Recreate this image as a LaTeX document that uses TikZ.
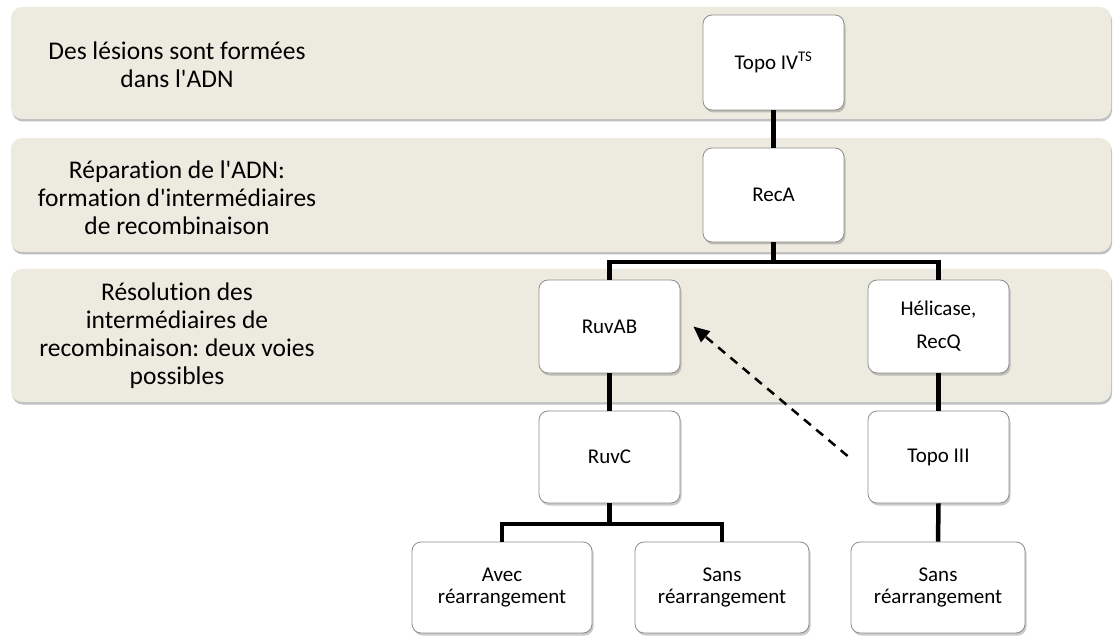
\documentclass[tikz,border=0pt]{standalone}
\usepackage{fontspec}
\setmainfont{Carlito}[Ligatures={TeXOff,NoCommon}]
\usetikzlibrary{shadows,arrows.meta,calc}
\frenchspacing
\definecolor{bandfill}{RGB}{237,235,224}
\definecolor{boxedge}{RGB}{140,140,140}
\tikzset{
  band/.style={rounded corners=11pt, fill=bandfill, draw=none, minimum width=1100pt, inner sep=0pt,
    drop shadow={shadow xshift=1pt, shadow yshift=-2.5pt, opacity=0.45, fill=black!55}},
  bandtext/.style={align=center, font=\fontsize{25.5}{28}\selectfont, inner sep=0pt},
  stepbox/.style={rounded corners=9pt, fill=white, draw=boxedge, line width=0.8pt, minimum width=141pt,
    minimum height=94pt, inner sep=0pt, align=center, font=\fontsize{21}{22}\selectfont,
    drop shadow={shadow xshift=1.5pt, shadow yshift=-2.5pt, opacity=0.35, fill=black!60}},
  conn/.style={line width=4.5pt, draw=black},
  hint/.style={line width=2.5pt, dash pattern=on 9pt off 7pt, -{Triangle[length=16pt,width=14pt]}}
}
\begin{document}
\begin{tikzpicture}[x=1pt,y=-1pt]
\useasboundingbox (0,0) rectangle (1113,636);
% bands
\node[band, minimum height=112pt] (b1) at (561,63) {};
\node[band, minimum height=114pt] (b2) at (561,195) {};
\node[band, minimum height=133pt] (b3) at (561,335.5) {};
% band texts
\node[bandtext] (t1) at (177,65) {Des lésions sont formées\\dans l'ADN};
\node[bandtext] (t2) at (177,198) {Réparation de l'ADN:\\formation d'intermédiaires\\de recombinaison};
\node[bandtext] (t3) at (177,336) {Résolution des\\intermédiaires de\\recombinaison: deux voies\\possibles};
% boxes
\node[stepbox, minimum height=95pt] (topo4) at (773.5,62.5) {Topo IV\textsuperscript{TS}};
\node[stepbox] (reca) at (773.5,195) {RecA};
\node[stepbox, minimum height=93pt] (ruvab) at (609.5,326.5) {RuvAB};
\node[stepbox, minimum height=93pt, font=\fontsize{21}{33}\selectfont] (helic) at (938.5,326.5) {Hélicase,\\RecQ};
\node[stepbox, minimum height=92pt] (ruvc) at (609.5,457) {RuvC};
\node[stepbox, minimum height=92pt] (topo3) at (938.5,457) {Topo III};
\node[stepbox, minimum width=180pt, minimum height=91pt] (avec) at (502,587.5) {Avec\\réarrangement};
\node[stepbox, minimum width=174pt, minimum height=91pt] (sans1) at (722,587.5) {Sans\\réarrangement};
\node[stepbox, minimum width=174pt, minimum height=91pt] (sans2) at (938,587.5) {Sans\\réarrangement};
% connectors
\coordinate (j1) at (773.5,262);
\coordinate (j2) at (609.5,524);
\draw[conn] (topo4.south) -- (reca.north);
\draw[conn] (reca.south) -- (j1);
\draw[conn] (ruvab.north) |- (j1) -| (helic.north);
\draw[conn] (ruvab.south) -- (ruvc.north);
\draw[conn] (helic.south) -- (topo3.north);
\draw[conn] (ruvc.south) -- (j2);
\draw[conn] (avec.north) |- (j2) -| (sans1.north);
\draw[conn] (topo3.south) -- (sans2.north);
% dashed arrow
\coordinate (dtail) at ($(topo3.west)+(-20,-1)$);
\coordinate (dtip) at ($(ruvab.east)+(13,0)$);
\draw[hint] (dtail) -- (dtip);
\end{tikzpicture}
\end{document}
